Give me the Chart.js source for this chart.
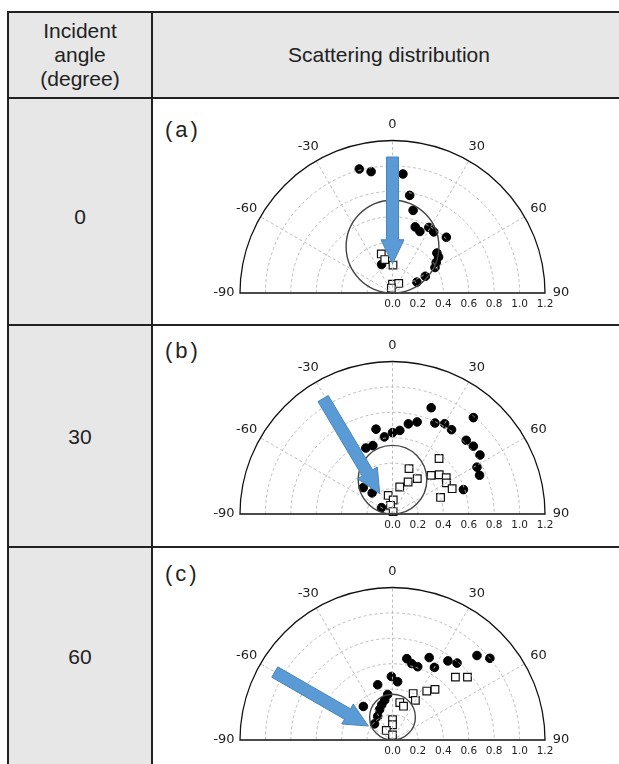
<!DOCTYPE html>
<html>
<head>
<meta charset="utf-8">
<script src="https://cdn.jsdelivr.net/npm/chart.js@4.4.0/dist/chart.umd.min.js"></script>
<style>
  body { margin: 0; width: 619px; height: 764px; overflow: hidden; position: relative; background: #fff;
         font-family: "Liberation Sans", Arial, sans-serif; color: #222; }
  .abs { position: absolute; box-sizing: border-box; }
  .gray { background: #e7e7e7; }
  .hline { background: #222; height: 2px; }
  .vline { background: #222; width: 2px; }
  .txt { font-size: 21px; text-align: center; display: flex; align-items: center; justify-content: center; line-height: 24px; }
  .letter { font-size: 22px; letter-spacing: 3px; line-height: 26px; }
  canvas { position: absolute; }
</style>
</head>
<body>
<!-- table background -->
<div class="abs gray" style="left:8px;top:12px;width:617px;height:87px"></div>
<div class="abs gray" style="left:8px;top:12px;width:145px;height:760px"></div>
<!-- borders -->
<div class="abs hline" style="left:8px;top:11px;width:617px"></div>
<div class="abs hline" style="left:8px;top:97px;width:617px"></div>
<div class="abs hline" style="left:8px;top:324px;width:617px"></div>
<div class="abs hline" style="left:8px;top:546px;width:617px"></div>
<div class="abs vline" style="left:7px;top:11px;height:760px"></div>
<div class="abs vline" style="left:151px;top:11px;height:760px"></div>

<!-- header text -->
<div class="abs txt" style="left:8px;top:12px;width:144px;height:86px">Incident<br>angle<br>(degree)</div>
<div class="abs txt" style="left:153px;top:12px;width:472px;height:86px">Scattering distribution</div>

<!-- incident angle column -->
<div class="abs txt" id="ang0" style="left:8px;top:104px;width:144px;height:225px"></div>
<div class="abs txt" id="ang1" style="left:8px;top:327px;width:144px;height:220px"></div>
<div class="abs txt" id="ang2" style="left:8px;top:549px;width:144px;height:216px"></div>

<!-- panel letters -->
<div class="abs letter" id="let0" style="left:165px;top:117px"></div>
<div class="abs letter" id="let1" style="left:165px;top:338px"></div>
<div class="abs letter" id="let2" style="left:165px;top:561px"></div>

<canvas id="pa" width="466" height="225" style="left:153px;top:99px"></canvas>
<canvas id="pb" width="466" height="220" style="left:153px;top:326px"></canvas>
<canvas id="pc" width="466" height="216" style="left:153px;top:548px"></canvas>

<script>
// incident angles and panel letters
const incidentAngles = [0, 30, 60];
const panelLetters = ['(a)', '(b)', '(c)'];

// polar axis ticks
const angleTicks = [-90, -60, -30, 0, 30, 60, 90];
const radialTicks = [0, 0.2, 0.4, 0.6, 0.8, 1.0, 1.2];
const radialTickLabels = ['0.0', '0.2', '0.4', '0.6', '0.8', '1.0', '1.2'];
const gridAngles = [-60, -30, 0, 30, 60];
const gridRadii = [0.2, 0.4, 0.6, 0.8, 1.0];

// (a) incident 0 deg : angle (deg) / radius
const aCircAng = [-15, -10, 5, 10, 14, 19, 24, 29, 34, 44, 48, 52, 55, 59, 63, 66, -21];
const aCircRad = [1.01, 0.97, 0.94, 0.78, 0.67, 0.55, 0.53, 0.59, 0.58, 0.61, 0.47, 0.46, 0.42, 0.39, 0.29, 0.21, 0.24];
const aSqAng = [-16, -13, 1, 0, 33, -13];
const aSqRad = [0.32, 0.27, 0.22, 0.07, 0.09, 0.04];

// (b) incident 30 deg
const bCircAng = [20, 40, 25, 30, 35, 15, 10, 5, 0, -6, -11, -16, -22, 45, 50, 56, 61, 66, 71, -48, -44, -60];
const bCircRad = [0.89, 0.99, 0.79, 0.82, 0.81, 0.75, 0.72, 0.66, 0.64, 0.61, 0.68, 0.56, 0.56, 0.82, 0.83, 0.83, 0.76, 0.75, 0.59, 0.31, 0.23, 0.10];
const bSqAng = [40, 20, 35, 26, 15, 45, 50, 56, 60, 67, 71, -13, 3, -13, 15];
const bSqRad = [0.57, 0.38, 0.34, 0.28, 0.22, 0.43, 0.48, 0.51, 0.49, 0.51, 0.40, 0.15, 0.11, 0.07, 0.02];

// (c) incident 60 deg
const cCircAng = [10, 14, 19, 24, 30, 35, 40, 45, 50, -1, 5, -15, -41, -6, -11, -17, -23, -32, -48];
const cCircRad = [0.65, 0.62, 0.61, 0.71, 0.66, 0.76, 0.79, 0.94, 1.0, 0.50, 0.46, 0.45, 0.35, 0.36, 0.32, 0.29, 0.26, 0.22, 0.19];
const cSqAng = [45, 50, 35, 40, 24, 30, 11, 18, 0, 0, -33, 0];
const cSqRad = [0.70, 0.77, 0.47, 0.52, 0.40, 0.36, 0.30, 0.28, 0.16, 0.12, 0.09, 0.04];

// reference (solid) circle diameters, and incoming arrows [angle, radius]
const refDiam = [0.73, 0.54, 0.36];
const arrowFrom = [[0, 1.07], [-31, 1.06], [-60, 1.07]];
const arrowTo = [[0, 0.23], [-32, 0.19], [-60, 0.22]];

const rad = d => d * Math.PI / 180;
const toXY = (ang, r) => ang.map((a, i) => ({ x: r[i] * Math.sin(rad(a)), y: r[i] * Math.cos(rad(a)) }));

// grid, frame, labels, reference circle and arrow
const polarFrame = {
  id: 'polarFrame',
  afterDatasetsDraw(chart, args, opts) {
    const { ctx, scales: { x, y } } = chart;
    const cx = x.getPixelForValue(0), cy = y.getPixelForValue(0);
    const ppu = x.getPixelForValue(1) - cx;
    const rMax = x.max;
    const pt = (deg, r) => [cx + r * ppu * Math.sin(rad(deg)), cy - r * ppu * Math.cos(rad(deg))];
    ctx.save();

    ctx.strokeStyle = '#b8b8b8';
    ctx.lineWidth = 0.9;
    ctx.setLineDash([3, 2.5]);
    gridRadii.forEach(r => {
      ctx.beginPath();
      ctx.arc(cx, cy, r * ppu, Math.PI, 2 * Math.PI);
      ctx.stroke();
    });
    gridAngles.forEach(a => {
      const p = pt(a, rMax);
      ctx.beginPath();
      ctx.moveTo(cx, cy);
      ctx.lineTo(p[0], p[1]);
      ctx.stroke();
    });
    ctx.setLineDash([]);

    // outer half circle
    ctx.strokeStyle = '#111';
    ctx.lineWidth = 1.3;
    ctx.beginPath();
    ctx.moveTo(cx - rMax * ppu, cy);
    ctx.arc(cx, cy, rMax * ppu, Math.PI, 2 * Math.PI);
    ctx.closePath();
    ctx.stroke();

    // reference circle
    const d = opts.diam * ppu;
    ctx.strokeStyle = '#444';
    ctx.lineWidth = 1.4;
    ctx.beginPath();
    ctx.arc(cx, cy - d / 2, d / 2, 0, 2 * Math.PI);
    ctx.stroke();

    // labels
    ctx.fillStyle = '#222';
    ctx.font = '13px "DejaVu Sans"';
    ctx.textAlign = 'center';
    ctx.textBaseline = 'middle';
    angleTicks.forEach(a => {
      const p = pt(a, rMax + 16 / ppu);
      ctx.fillText(String(a), p[0], p[1]);
    });
    ctx.font = '10.5px "DejaVu Sans"';
    radialTicks.forEach((v, i) => {
      ctx.fillText(radialTickLabels[i], x.getPixelForValue(v), cy + 11);
    });

    // arrow
    const t = pt(opts.from[0], opts.from[1]);
    const h = pt(opts.to[0], opts.to[1]);
    const len = Math.hypot(h[0] - t[0], h[1] - t[1]);
    const ux = (h[0] - t[0]) / len, uy = (h[1] - t[1]) / len;
    const nx = -uy, ny = ux;
    const sw = 6, hw = 11.5, hl = 24;
    const bx = h[0] - ux * hl, by = h[1] - uy * hl;
    ctx.fillStyle = '#5b9bd5';
    ctx.strokeStyle = '#4a85bd';
    ctx.lineWidth = 1;
    ctx.beginPath();
    ctx.moveTo(t[0] + nx * sw, t[1] + ny * sw);
    ctx.lineTo(bx + nx * sw, by + ny * sw);
    ctx.lineTo(bx + nx * hw, by + ny * hw);
    ctx.lineTo(h[0], h[1]);
    ctx.lineTo(bx - nx * hw, by - ny * hw);
    ctx.lineTo(bx - nx * sw, by - ny * sw);
    ctx.lineTo(t[0] - nx * sw, t[1] - ny * sw);
    ctx.closePath();
    ctx.fill();
    ctx.stroke();
    ctx.restore();
  }
};

const panels = [
  { id: 'pa', circ: toXY(aCircAng, aCircRad), sq: toXY(aSqAng, aSqRad), pad: { left: 87, right: 74, top: 41.5, bottom: 31 } },
  { id: 'pb', circ: toXY(bCircAng, bCircRad), sq: toXY(bSqAng, bSqRad), pad: { left: 87, right: 74, top: 35.5, bottom: 32 } },
  { id: 'pc', circ: toXY(cCircAng, cCircRad), sq: toXY(cSqAng, cSqRad), pad: { left: 87, right: 74, top: 39.5, bottom: 24 } }
];

panels.forEach((p, i) => {
  document.getElementById('ang' + i).textContent = incidentAngles[i];
  document.getElementById('let' + i).textContent = panelLetters[i];

  new Chart(document.getElementById(p.id), {
    type: 'scatter',
    data: {
      datasets: [
        {
          label: 'squares',
          data: p.sq,
          pointStyle: 'rect',
          pointRadius: 5.4,
          backgroundColor: '#fff',
          borderColor: '#111',
          borderWidth: 1.2,
          clip: false
        },
        {
          label: 'circles',
          data: p.circ,
          pointStyle: 'circle',
          pointRadius: 4.3,
          backgroundColor: '#000',
          borderColor: '#000',
          borderWidth: 1,
          clip: false
        }
      ]
    },
    options: {
      responsive: false,
      animation: false,
      events: [],
      layout: { padding: p.pad },
      scales: {
        x: { type: 'linear', min: -1.2, max: 1.2, display: false },
        y: { type: 'linear', min: 0, max: 1.2, display: false }
      },
      plugins: {
        legend: { display: false },
        tooltip: { enabled: false },
        polarFrame: { diam: refDiam[i], from: arrowFrom[i], to: arrowTo[i] }
      }
    },
    plugins: [polarFrame]
  });
});
</script>
</body>
</html>
